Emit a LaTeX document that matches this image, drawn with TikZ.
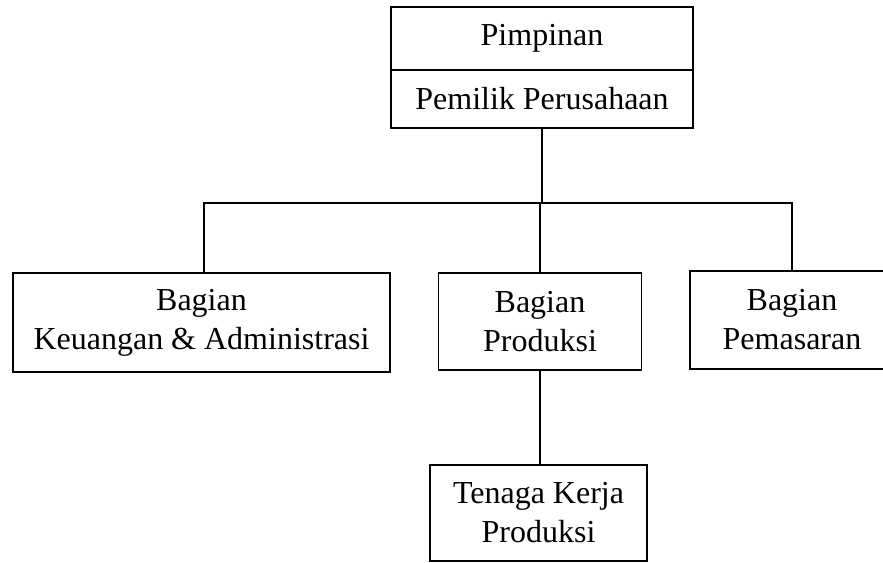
\documentclass[tikz,border=0pt]{standalone}
\usepackage{fontspec}
\setmainfont{Liberation Serif}
\begin{document}
\begin{tikzpicture}[x=1pt,y=-1pt,
  box/.style={draw, line width=1.6pt, inner sep=0pt, align=center,
    font=\fontsize{32}{39}\selectfont},
  openbox/.style={box, draw=none},
  link/.style={line width=1.6pt}]
\useasboundingbox (0,0) rectangle (883,562);
\node[box, minimum width=302pt, minimum height=63pt] (pim) at (542,38.5) {Pimpinan};
\node[box, minimum width=302pt, minimum height=58pt] (pem) at (542,99) {Pemilik Perusahaan};
\node[box, minimum width=377pt, minimum height=99pt] (keu) at (201.5,322.5) {Bagian\\Keuangan \& Administrasi};
\node[box, minimum width=203pt, minimum height=97pt] (prod) at (540,321.5) {Bagian\\Produksi};
\node[openbox, minimum width=202pt, minimum height=96pt] (pms) at (792,320) {Bagian\\Pemasaran};
\draw[link] ([xshift=20pt]pms.north east) -- (pms.north west) -- (pms.south west) -- ([xshift=20pt]pms.south east);
\node[box, minimum width=217pt, minimum height=96pt] (tk) at (538.5,513) {Tenaga Kerja\\Produksi};
\coordinate (hl) at (204,203);
\coordinate (hr) at (792,203);
\draw[link] (hl |- keu.north) -- (hl) -- (hr) -- (hr |- pms.north);
\draw[link] (pem.south) -- (pem.south |- hl);
\draw[link] (prod.north) -- (prod.north |- hl);
\draw[link] (prod.south) -- (prod.south |- tk.north);
\end{tikzpicture}
\end{document}
